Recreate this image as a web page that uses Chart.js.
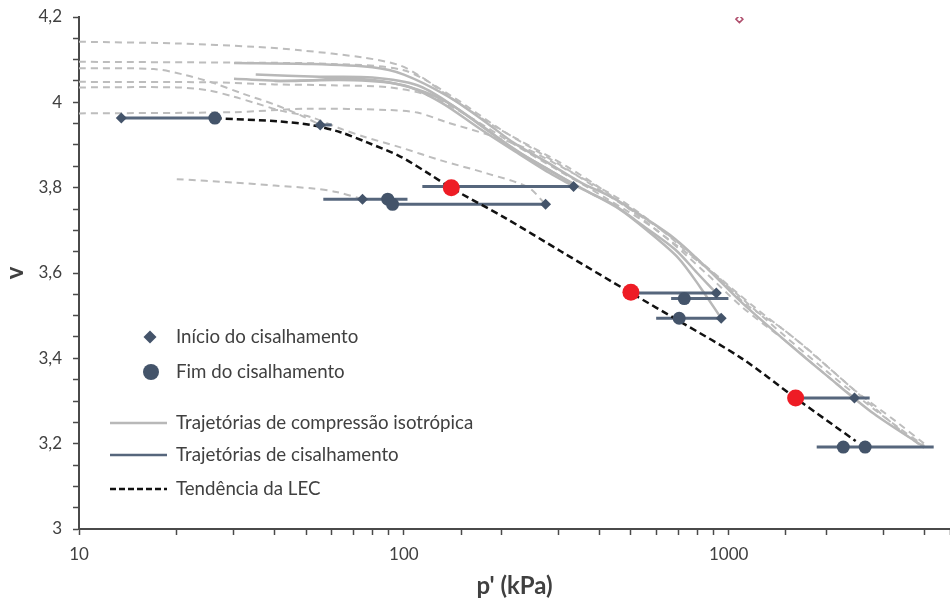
<!DOCTYPE html>
<html>
<head>
<meta charset="utf-8">
<title>Linha de estado crítico</title>
<script src="https://cdn.jsdelivr.net/npm/chart.js@4.4.0/dist/chart.umd.min.js"></script>
<style>
  html, body { margin: 0; padding: 0; background: #fff; }
  #wrap { width: 950px; height: 601px; }
</style>
</head>
<body>
<div id="wrap"><canvas id="myChart" width="950" height="601"></canvas></div>
<script>
// isotropic compression paths, solid (p' in kPa, v)
const compSolidP = [
  [30, 50, 80, 100, 136, 174, 218, 278, 351, 443, 537, 684, 861, 1100, 1500, 2000, 2800, 4000],
  [30, 45, 65, 85, 110, 136, 174, 218, 278, 351, 443, 537, 684, 800, 916],
  [35, 55, 80, 110, 140, 180, 230, 290, 370, 460, 560, 700, 820, 948],
  [40, 70, 100, 130, 170, 220, 280, 333]
];
const compSolidV = [
  [4.092, 4.09, 4.082, 4.065, 4.015, 3.96, 3.905, 3.858, 3.812, 3.775, 3.735, 3.68, 3.61, 3.53, 3.44, 3.36, 3.27, 3.192],
  [4.055, 4.05, 4.055, 4.05, 4.03, 4.0, 3.945, 3.89, 3.843, 3.798, 3.76, 3.714, 3.655, 3.60, 3.553],
  [4.065, 4.06, 4.058, 4.04, 3.995, 3.935, 3.88, 3.835, 3.79, 3.75, 3.70, 3.635, 3.565, 3.494],
  [4.05, 4.052, 4.04, 4.0, 3.94, 3.885, 3.835, 3.803]
];

// other compression curves, dashed
const compDashP = [
  [10, 20, 35, 48, 75, 97, 113, 140, 194, 320, 443, 650, 930, 1120, 1484, 2024, 2800, 3470, 3990],
  [10, 30, 60, 100, 140, 200, 300, 450, 650, 900, 1200, 1700, 2400, 3300, 4000],
  [10, 17, 21, 26, 32, 40, 48, 55.3],
  [10, 25, 40, 60, 90, 120, 160, 220, 300, 420, 600, 850, 1100, 1500, 2000, 2438],
  [10, 20, 25, 30, 35, 42, 52, 64, 75, 97, 130, 181, 241, 273],
  [10, 30, 50, 90, 110, 136, 180, 233, 319, 398, 466, 600, 800, 1100, 1500, 2000, 2600, 3300, 4000],
  [20, 30, 40, 52.6, 62, 74.6]
];
const compDashV = [
  [4.142, 4.138, 4.13, 4.122, 4.105, 4.087, 4.06, 4.01, 3.94, 3.848, 3.777, 3.68, 3.59, 3.529, 3.466, 3.379, 3.285, 3.224, 3.19],
  [4.095, 4.093, 4.09, 4.075, 4.015, 3.935, 3.855, 3.77, 3.69, 3.60, 3.52, 3.43, 3.33, 3.25, 3.20],
  [4.08, 4.078, 4.065, 4.045, 4.02, 3.995, 3.97, 3.947],
  [4.048, 4.047, 4.042, 4.04, 4.035, 4.015, 3.965, 3.90, 3.84, 3.775, 3.70, 3.60, 3.52, 3.44, 3.36, 3.307],
  [4.035, 4.035, 4.028, 4.013, 3.998, 3.98, 3.965, 3.938, 3.92, 3.895, 3.864, 3.833, 3.801, 3.761],
  [3.974, 3.977, 3.985, 3.982, 3.976, 3.953, 3.925, 3.895, 3.841, 3.801, 3.771, 3.71, 3.63, 3.54, 3.45, 3.37, 3.30, 3.24, 3.195],
  [3.82, 3.812, 3.805, 3.798, 3.79, 3.773]
];

// shearing paths (constant v)
const shearFromP = [13.5, 55.3, 56.5, 92.3, 114, 501, 665, 598, 1607, 1866];
const shearToP   = [26.2, 60, 102.6, 273, 333, 929, 998, 948, 2716, 4276];
const shearV     = [3.963, 3.947, 3.773, 3.761, 3.803, 3.553, 3.540, 3.494, 3.307, 3.192];

// start of shearing (diamonds) and end of shearing (circles)
const startP = [13.5, 55.3, 74.6, 273, 333, 916, 948, 2438];
const startV = [3.963, 3.947, 3.773, 3.761, 3.803, 3.553, 3.494, 3.307];
const endP = [26.2, 89.2, 92.3, 730, 704, 2253, 2630];
const endV = [3.963, 3.773, 3.761, 3.540, 3.494, 3.192, 3.192];

// LEC trend line and its reference points
const lecP = [26.2, 41.6, 52.6, 63.8, 77.1, 97.5, 121, 140, 203, 304, 501, 713, 1096, 1607, 2460];
const lecV = [3.963, 3.955, 3.946, 3.930, 3.906, 3.873, 3.830, 3.799, 3.731, 3.651, 3.553, 3.485, 3.400, 3.307, 3.206];
const lecPointP = [140, 500, 1607];
const lecPointV = [3.80, 3.555, 3.307];

// stray point near the top
const strayP = [1079];
const strayV = [4.195];

const legendItems = [
  'Início do cisalhamento',
  'Fim do cisalhamento',
  'Trajetórias de compressão isotrópica',
  'Trajetórias de cisalhamento',
  'Tendência da LEC'
];

const SHEAR = '#56667c';
const MARK = '#44546a';
const GREY = '#b8b8b8';
const GREY_D = '#bdbdbd';
const TXT = '#404040';
const AXIS = '#4a4a4a';

function pts(ps, vs) {
  return ps.map((p, i) => ({ x: p, y: vs[i] }));
}

const datasets = [];

compDashP.forEach((ps, i) => {
  datasets.push({
    data: pts(ps, compDashV[i]), showLine: true, borderColor: GREY_D, borderWidth: 2,
    borderDash: [7, 5], pointRadius: 0, tension: 0.3, order: 7
  });
});
compSolidP.forEach((ps, i) => {
  datasets.push({
    data: pts(ps, compSolidV[i]), showLine: true, borderColor: GREY, borderWidth: 2.5,
    pointRadius: 0, tension: 0.3, order: 6
  });
});
shearV.forEach((v, i) => {
  datasets.push({
    data: [{ x: shearFromP[i], y: v }, { x: shearToP[i], y: v }],
    showLine: true, borderColor: SHEAR, borderWidth: 3, pointRadius: 0, order: 5
  });
});
datasets.push({
  data: pts(lecP, lecV), showLine: true, borderColor: '#111', borderWidth: 2.5,
  borderDash: [7, 4], pointRadius: 0, tension: 0.3, order: 4
});
datasets.push({
  data: pts(startP, startV), showLine: false, pointStyle: 'rectRot', pointRadius: 5.5,
  backgroundColor: MARK, borderColor: MARK, borderWidth: 0, order: 3
});
datasets.push({
  data: pts(endP, endV), showLine: false, pointStyle: 'circle', pointRadius: 6.5,
  backgroundColor: MARK, borderColor: MARK, borderWidth: 0, order: 2
});
datasets.push({
  data: pts(lecPointP, lecPointV), showLine: false, pointStyle: 'circle', pointRadius: 8.5,
  backgroundColor: '#ee1c25', borderColor: '#ee1c25', borderWidth: 0, order: 1
});
datasets.push({
  data: pts(strayP, strayV), showLine: false, pointStyle: 'rectRot', pointRadius: 3.5,
  backgroundColor: '#fff', borderColor: '#b0506e', borderWidth: 1.5, order: 1
});

// legend drawn inside the plot, lower left
const innerLegend = {
  id: 'innerLegend',
  afterDraw(chart) {
    const ctx = chart.ctx;
    const a = chart.chartArea;
    const x0 = a.left + 31, x1 = a.left + 88, xm = a.left + 71, xt = a.left + 97;
    const rows = [a.bottom - 192, a.bottom - 157, a.bottom - 106, a.bottom - 74, a.bottom - 40];
    ctx.save();
    ctx.fillStyle = MARK;
    ctx.beginPath();
    ctx.moveTo(xm, rows[0] - 6.5);
    ctx.lineTo(xm + 6.5, rows[0]);
    ctx.lineTo(xm, rows[0] + 6.5);
    ctx.lineTo(xm - 6.5, rows[0]);
    ctx.closePath();
    ctx.fill();
    ctx.beginPath();
    ctx.arc(xm + 1, rows[1], 8, 0, Math.PI * 2);
    ctx.fill();

    ctx.lineWidth = 2.5;
    ctx.strokeStyle = GREY;
    ctx.beginPath(); ctx.moveTo(x0, rows[2]); ctx.lineTo(x1, rows[2]); ctx.stroke();
    ctx.strokeStyle = SHEAR;
    ctx.beginPath(); ctx.moveTo(x0, rows[3]); ctx.lineTo(x1, rows[3]); ctx.stroke();
    ctx.strokeStyle = '#111';
    ctx.setLineDash([6, 3]);
    ctx.beginPath(); ctx.moveTo(x0, rows[4]); ctx.lineTo(x1, rows[4]); ctx.stroke();
    ctx.setLineDash([]);

    ctx.fillStyle = TXT;
    ctx.font = '18.7px Lato';
    ctx.textBaseline = 'middle';
    legendItems.forEach((t, i) => ctx.fillText(t, xt, rows[i]));
    ctx.restore();
  }
};

Chart.defaults.font.family = 'Lato';

var ctx = document.getElementById('myChart').getContext('2d');
var chart = new Chart(ctx, {
  type: 'scatter',
  data: { datasets: datasets },
  options: {
    responsive: false,
    animation: false,
    layout: { autoPadding: false, padding: { top: 17, right: 0, left: 0, bottom: 0 } },
    plugins: { legend: { display: false }, tooltip: { enabled: false } },
    scales: {
      x: {
        type: 'logarithmic',
        min: 10,
        max: 4800,
        border: { color: AXIS, width: 2 },
        grid: { drawOnChartArea: false, drawTicks: true, tickLength: 6, color: AXIS, tickWidth: 1.5 },
        ticks: {
          color: TXT, font: { size: 17 }, padding: 9, autoSkip: false, maxRotation: 0,
          callback: function (v) {
            const e = Math.log10(v);
            return Math.abs(e - Math.round(e)) < 1e-9 ? String(v) : '';
          }
        },
        title: {
          display: true, text: "p' (kPa)", color: TXT,
          font: { size: 24, weight: 'bold' }, padding: { top: 0, bottom: 0 }
        },
        afterFit: function (s) { s.height = 72; s.paddingLeft = 0; s.paddingRight = 0; }
      },
      y: {
        min: 3,
        max: 4.2,
        border: { color: AXIS, width: 2 },
        grid: { drawOnChartArea: false, drawTicks: true, tickLength: 6, color: AXIS, tickWidth: 1.5 },
        ticks: {
          stepSize: 0.05, autoSkip: false, color: TXT, font: { size: 17 }, padding: 11,
          callback: function (v) {
            const k = Math.round(v * 20);
            return k % 4 === 0 ? String(k / 20).replace('.', ',') : '';
          }
        },
        title: {
          display: true, text: 'v', color: TXT,
          font: { size: 24, weight: 'bold' }, padding: { top: 1, bottom: 0 }
        },
        afterFit: function (s) { s.width = 79; s.paddingTop = 0; s.paddingBottom = 0; }
      }
    }
  },
  plugins: [innerLegend]
});
</script>
</body>
</html>
